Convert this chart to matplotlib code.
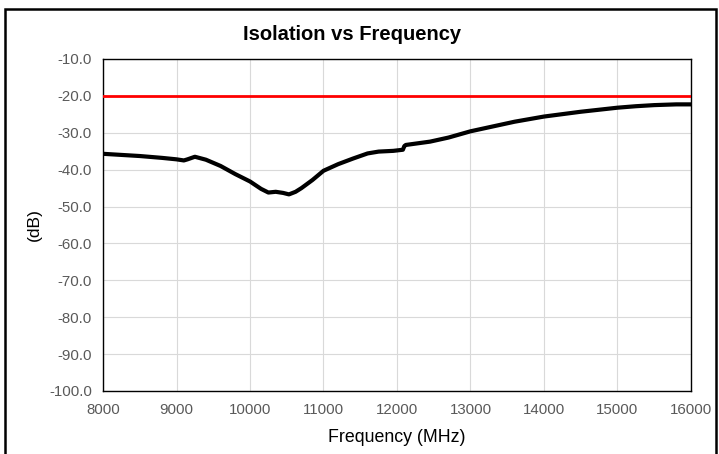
import matplotlib.pyplot as plt
from matplotlib.patches import Rectangle

plt.rcParams['font.family'] = ['Liberation Sans', 'DejaVu Sans']

freq_mhz = [8000, 8500, 8800, 9000, 9100, 9150, 9250, 9400, 9600, 9800,
            10000, 10150, 10250, 10350, 10450, 10530, 10620, 10700, 10850, 11000,
            11200, 11400, 11600, 11750, 11950, 12080, 12100, 12120, 12450, 12700,
            13000, 13300, 13600, 14000, 14500, 15000, 15250, 15500, 15800, 16000]
isolation_db = [-35.7, -36.3, -36.8, -37.2, -37.5, -37.2, -36.5, -37.3, -39.0, -41.2,
                -43.2, -45.2, -46.2, -46.0, -46.3, -46.7, -46.0, -45.0, -42.8, -40.3,
                -38.5, -37.0, -35.6, -35.1, -34.9, -34.6, -33.6, -33.3, -32.4, -31.3,
                -29.6, -28.3, -27.0, -25.6, -24.3, -23.2, -22.8, -22.5, -22.3, -22.3]

# spec limit line
limit_freq = [8000, 16000]
limit_db = [-20, -20]

W, H = 719, 454
fig = plt.figure(figsize=(W / 100, H / 100), dpi=100)
ax = fig.add_axes([103 / W, 1 - 391 / H, 588 / W, 332 / H])

ax.plot(freq_mhz, isolation_db, color='black', lw=3.0, solid_joinstyle='round',
        solid_capstyle='butt', zorder=3)
ax.plot(limit_freq, limit_db, color='#ff0000', lw=2.0, zorder=4)

ax.set_xlim(8000, 16000)
ax.set_ylim(-100, -10)
ax.set_xticks(range(8000, 16001, 1000))
ax.set_yticks(range(-100, -9, 10))
ax.set_yticklabels([f'{v:.1f}' for v in range(-100, -9, 10)])
ax.grid(True, color='#d9d9d9', lw=0.8)
ax.set_axisbelow(True)
for s in ax.spines.values():
    s.set_color('black')
    s.set_linewidth(1.0)
ax.tick_params(length=0, labelsize=10.8, labelcolor='#595959')
ax.tick_params(axis='y', pad=8)
ax.tick_params(axis='x', pad=9)

fig.text(397 / W, 1 - 437 / H, 'Frequency (MHz)', ha='center', va='center', fontsize=12.8)
fig.text(34 / W, 1 - 225 / H, '(dB)', ha='center', va='center', rotation=90, fontsize=12.6)
fig.text(352 / W, 1 - 35 / H, 'Isolation vs Frequency', ha='center', va='center',
         fontsize=14.5, fontweight='bold')

# chart border
fig.patches.append(Rectangle((5 / W, -0.02), 711 / W, 1.02 - 9 / H,
                             transform=fig.transFigure, fill=False,
                             edgecolor='black', lw=1.8))

fig.savefig('out.png', dpi=100)
